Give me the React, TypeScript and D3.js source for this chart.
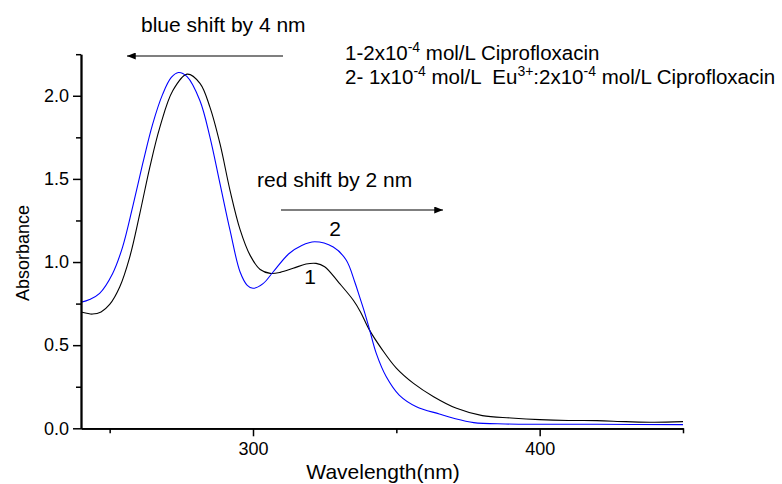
import React, { useEffect, useRef } from 'react';
import * as d3 from 'd3';

// curve 1: 2x10^-4 mol/L Ciprofloxacin (black)
const wavelength1 = [240, 242, 244, 247, 250, 253.5, 257, 260.5, 264, 267.5, 272, 277, 281.5, 285, 288.5, 292, 295.5, 299, 302.5, 306, 309.5, 314, 318.5, 322, 325, 330, 335, 337.5, 340.5, 345, 350, 356, 363, 371, 380, 390, 400, 410, 420, 430, 440, 450];
const absorbance1 = [0.700, 0.692, 0.687, 0.700, 0.745, 0.850, 1.030, 1.290, 1.570, 1.810, 2.030, 2.130, 2.075, 1.930, 1.710, 1.430, 1.195, 1.040, 0.955, 0.932, 0.938, 0.962, 0.988, 0.992, 0.972, 0.875, 0.770, 0.700, 0.595, 0.475, 0.362, 0.270, 0.190, 0.120, 0.076, 0.062, 0.052, 0.047, 0.046, 0.040, 0.036, 0.040];

// curve 2: Eu3+ : Ciprofloxacin (blue)
const wavelength2 = [240, 243, 246.5, 251, 254.5, 258, 261.5, 265, 268.5, 271.5, 274, 277, 281.5, 285, 288.5, 292, 295.5, 298, 300, 303.5, 307, 312.5, 317, 321.5, 328, 332.5, 335.5, 337.2, 339, 340.7, 343, 346.5, 351, 357, 365, 370, 377, 388, 400, 420, 450];
const absorbance2 = [0.758, 0.775, 0.812, 0.930, 1.090, 1.330, 1.590, 1.830, 2.010, 2.110, 2.140, 2.115, 1.970, 1.750, 1.470, 1.190, 0.940, 0.860, 0.842, 0.870, 0.940, 1.050, 1.100, 1.122, 1.090, 1.012, 0.880, 0.790, 0.693, 0.591, 0.451, 0.310, 0.200, 0.130, 0.086, 0.060, 0.034, 0.026, 0.024, 0.024, 0.022];

const xMajorTicks = [300, 400];
const xMinorTicks = [250, 350, 450];
const yMajorTicks = [0, 0.5, 1.0, 1.5, 2.0];
const yMinorTicks = [0.25, 0.75, 1.25, 1.75, 2.25];

const FONT = 'Arial, "Liberation Sans", sans-serif';

const App = () => {
  const ref = useRef<SVGSVGElement | null>(null);

  useEffect(() => {
    if (!ref.current) return;
    const width = 782;
    const height = 484;

    const svg = d3.select(ref.current);
    svg.selectAll('*').remove();
    svg.attr('width', width).attr('height', height);

    const x = d3.scaleLinear().domain([240, 450]).range([81, 683]);
    const y = d3.scaleLinear().domain([0, 2.25]).range([428.3, 54.2]);

    const line = d3.line<[number, number]>()
      .x(d => x(d[0]))
      .y(d => y(d[1]))
      .curve(d3.curveCatmullRom.alpha(0.5));

    const series = [
      { xs: wavelength1, ys: absorbance1, color: '#000000' },
      { xs: wavelength2, ys: absorbance2, color: '#0000ff' },
    ];

    series.forEach(s => {
      svg.append('path')
        .datum(s.xs.map((w, i) => [w, s.ys[i]] as [number, number]))
        .attr('d', line)
        .attr('fill', 'none')
        .attr('stroke', s.color)
        .attr('stroke-width', 1.1);
    });

    // axes
    const gx = svg.append('g').attr('transform', `translate(0, ${y(0)})`);
    gx.call(d3.axisBottom(x).tickValues(xMajorTicks).tickSize(8).tickSizeOuter(0).tickFormat(d3.format('d')));
    gx.append('g').call(d3.axisBottom(x).tickValues(xMinorTicks).tickSize(5).tickSizeOuter(0).tickFormat(() => ''));

    const gy = svg.append('g').attr('transform', `translate(${x(240)}, 0)`);
    gy.call(d3.axisLeft(y).tickValues(yMajorTicks).tickSize(8).tickSizeOuter(0).tickFormat(d3.format('.1f')));
    gy.append('g').call(d3.axisLeft(y).tickValues(yMinorTicks).tickSize(5).tickSizeOuter(0).tickFormat(() => ''));

    svg.selectAll('.domain').attr('stroke', '#000').attr('stroke-width', 1.8);
    svg.selectAll('.tick line').attr('stroke', '#000').attr('stroke-width', 1.5);
    svg.selectAll('.tick text')
      .attr('font-family', FONT)
      .attr('font-size', 18)
      .attr('fill', '#000');
    gx.selectAll('.tick text').attr('dy', '0.85em');
    gy.selectAll('.tick text').attr('x', -12);

    // axis titles
    svg.append('text')
      .attr('x', 383).attr('y', 479)
      .attr('text-anchor', 'middle')
      .attr('font-family', FONT).attr('font-size', 21)
      .text('Wavelength(nm)');

    svg.append('text')
      .attr('transform', 'translate(29, 253) rotate(-90)')
      .attr('text-anchor', 'middle')
      .attr('font-family', FONT).attr('font-size', 18)
      .text('Absorbance');

    // arrows
    const defs = svg.append('defs');
    defs.append('marker')
      .attr('id', 'arrowhead')
      .attr('viewBox', '0 0 10 8')
      .attr('refX', 10).attr('refY', 4)
      .attr('markerWidth', 10).attr('markerHeight', 7)
      .attr('markerUnits', 'userSpaceOnUse')
      .attr('orient', 'auto')
      .append('path').attr('d', 'M0,0 L10,4 L0,8 Z').attr('fill', '#000');

    svg.append('line')
      .attr('x1', 283).attr('y1', 56).attr('x2', 127).attr('y2', 56)
      .attr('stroke', '#000').attr('stroke-width', 1.1)
      .attr('marker-end', 'url(#arrowhead)');

    svg.append('line')
      .attr('x1', 281).attr('y1', 210).attr('x2', 443).attr('y2', 210)
      .attr('stroke', '#000').attr('stroke-width', 1.1)
      .attr('marker-end', 'url(#arrowhead)');

    const label = (tx: number, ty: number, s: string, anchor = 'start') =>
      svg.append('text')
        .attr('x', tx).attr('y', ty)
        .attr('text-anchor', anchor)
        .attr('font-family', FONT).attr('font-size', 21)
        .text(s);

    label(141, 32, 'blue shift by 4 nm');
    label(257, 187, 'red shift by 2 nm');
    label(335, 236, '2', 'middle');
    label(310, 284, '1', 'middle');

    // legend text with superscripts
    const legend = (ty: number, parts: [string, boolean][]) => {
      const t = svg.append('text')
        .attr('x', 345).attr('y', ty)
        .attr('font-family', FONT).attr('font-size', 20.5)
        .style('white-space', 'pre');
      let raised = false;
      parts.forEach(([s, sup]) => {
        const dy = sup === raised ? 0 : (sup ? -8 : 8);
        raised = sup;
        t.append('tspan')
          .attr('font-size', sup ? 14 : 20.5)
          .attr('dy', dy)
          .text(s);
      });
    };

    legend(60, [['1-2x10', false], ['-4', true], [' mol/L Ciprofloxacin', false]]);
    legend(84, [
      ['2- 1x10', false], ['-4', true], [' mol/L  Eu', false], ['3+', true],
      [':2x10', false], ['-4', true], [' mol/L Ciprofloxacin', false],
    ]);
  }, []);

  return (
    <svg ref={ref} style={{ position: 'absolute', left: 0, top: 0, background: '#fff' }} />
  );
};

export default App;
